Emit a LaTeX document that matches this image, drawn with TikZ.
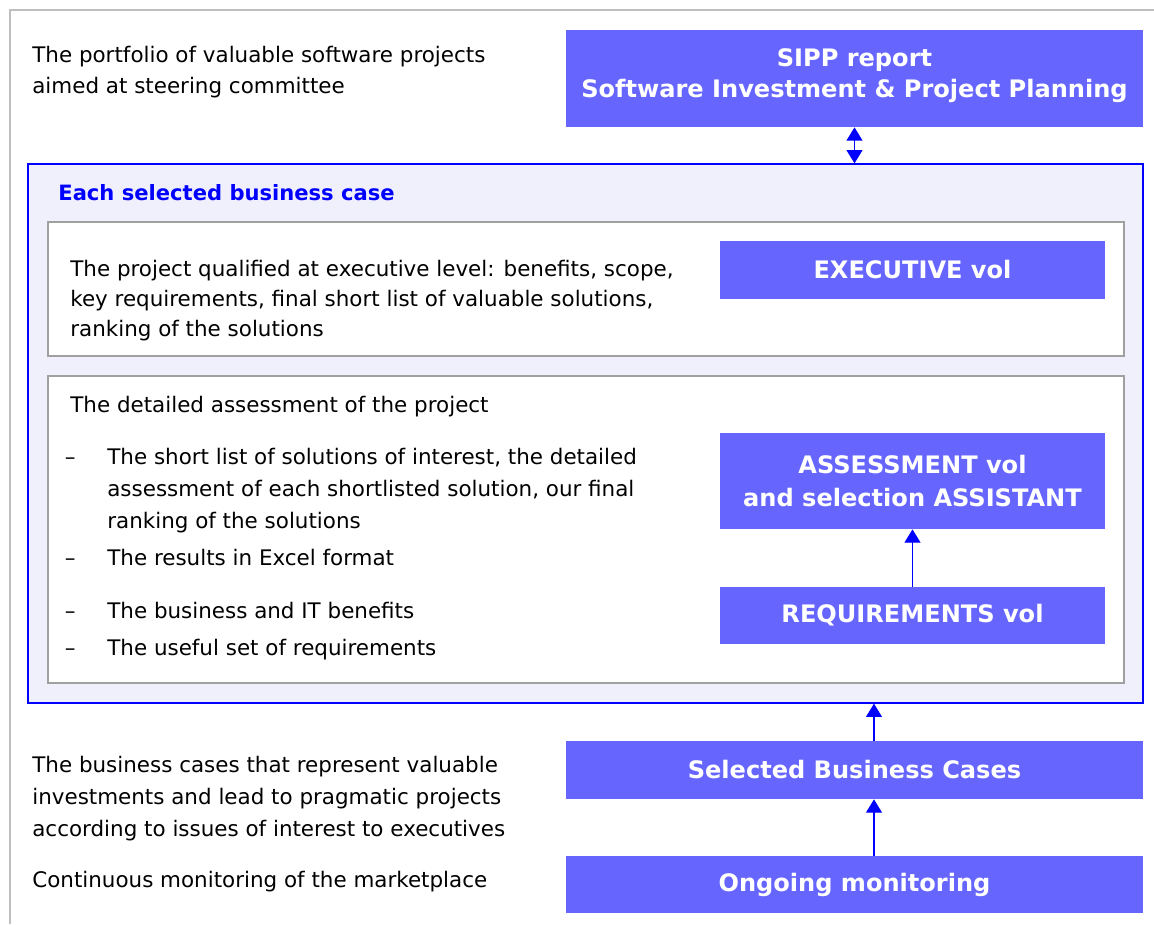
\documentclass[tikz,border=0pt]{standalone}
\usepackage{fontspec}
\setmainfont{DejaVu Sans}
\usetikzlibrary{arrows.meta,positioning}

\definecolor{volblue}{RGB}{102,102,255}
\definecolor{casefill}{RGB}{240,240,252}
\definecolor{framegray}{RGB}{190,190,190}
\definecolor{panelgray}{RGB}{160,160,160}

\begin{document}
\begin{tikzpicture}[x=0.02cm,y=-0.02cm,
		vol/.style={fill=volblue,text=white,inner sep=0pt,align=center,
			font=\fontsize{13.7}{20}\selectfont\bfseries},
		panel/.style={draw=panelgray,line width=0.8pt,fill=white,inner sep=0pt,
			minimum width=21.52cm},
		txt/.style={anchor=north west,inner sep=0pt,align=left,
			font=\fontsize{12.2}{17.6}\selectfont},
		link/.style={draw=blue,line width=0.6pt,-{Triangle[width=9pt,length=7.5pt]}}]
	\useasboundingbox (0,0) rectangle (1154,924);
	\draw [framegray,line width=1.2pt] (10,924) -- (10,10) -- (1154,10);

	% top report
	\node [vol,minimum width=11.54cm,minimum height=1.94cm,text depth=6pt] (sipp) at (854.5,78.5)
		{SIPP report\\[-2pt]Software Investment \& Project Planning};
	\node [txt] (portfolio) at (32,46)
		{The portfolio of valuable software projects\\aimed at steering committee};

	% business case
	\node [draw=blue,line width=0.8pt,fill=casefill,inner sep=0pt,
		minimum width=22.3cm,minimum height=10.78cm] (case) at (585.5,433.5) {};
	\node [txt,text=blue,font=\fontsize{12}{17}\selectfont\bfseries] (casetitle) at (58,184)
		{Each selected business case};

	\node [panel,minimum height=2.68cm] (execpanel) at (586,289) {};
	\node [panel,minimum height=6.14cm] (assesspanel) at (586,529.5) {};

	\node [vol,minimum width=7.7cm,minimum height=1.16cm] (exec) at (912.5,270) {EXECUTIVE vol};
	\node [txt,font=\fontsize{12.2}{17}\selectfont] (exectext) at (70,260)
		{The project qualified at executive level: benefits, scope,\\key requirements, final short list of valuable solutions,\\ranking of the solutions};

	\node [vol,minimum width=7.7cm,minimum height=1.92cm] (assess) at (912.5,481)
		{ASSESSMENT vol\\[-1pt]and selection ASSISTANT};
	\node [vol,minimum width=7.7cm,minimum height=1.14cm] (req) at (912.5,615.5) {REQUIREMENTS vol};

	\node [txt] (assesstext) at (70,396) {The detailed assessment of the project};
	\node [txt,font=\fontsize{12.2}{18.1}\selectfont] (item1) at (107,448)
		{The short list of solutions of interest, the detailed\\assessment of each shortlisted solution, our final\\ranking of the solutions};
	\node [txt] (item2) at (107,549) {The results in Excel format};
	\node [txt] (item3) at (107,602) {The business and IT benefits};
	\node [txt] (item4) at (107,639) {The useful set of requirements};
	\foreach \n in {1,...,4}
		\node [anchor=north east,inner sep=0pt,font=\fontsize{12.2}{17.6}\selectfont]
			at ([xshift=-0.62cm]item\n.north west) {\vphantom{Th}–};

	% feeding boxes
	\node [vol,minimum width=11.54cm,minimum height=1.16cm] (selected) at (854.5,770) {Selected Business Cases};
	\node [vol,minimum width=11.54cm,minimum height=1.14cm] (ongoing) at (854.5,884.5) {Ongoing monitoring};
	\node [txt,font=\fontsize{12.2}{18.1}\selectfont] (bctext) at (32,756)
		{The business cases that represent valuable\\investments and lead to pragmatic projects\\according to issues of interest to executives};
	\node [txt] (montext) at (32,871) {Continuous monitoring of the marketplace};

	\draw [link,{Triangle[width=9pt,length=7.5pt]}-{Triangle[width=9pt,length=7.5pt]}]
		(sipp.south) to (sipp.south |- case.north);
	\draw [link] (req.north) to (assess.south);
	\draw [link] ([xshift=0.39cm]ongoing.north) to ([xshift=0.39cm]selected.south);
	\draw [link] ([xshift=0.39cm]selected.north) to ([xshift=0.39cm]selected.north |- case.south);
\end{tikzpicture}
\end{document}
